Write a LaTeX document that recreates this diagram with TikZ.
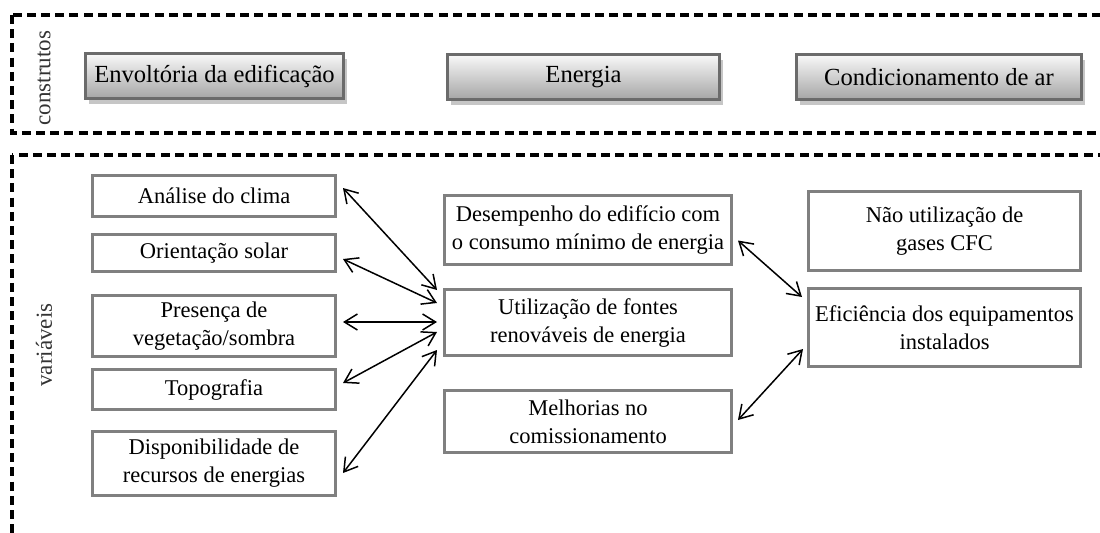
\documentclass[tikz,border=0pt]{standalone}
\usepackage{fontspec}
\setmainfont{Liberation Serif}
\usetikzlibrary{arrows.meta,shadows}

\tikzset{
    moldura/.style={line width=1.8pt, dash pattern=on 4.5pt off 2.6pt},
    rotulo/.style={rotate=90, text=black!80, font=\fontsize{11.5pt}{14pt}\selectfont},
    construto/.style={draw=black!58, line width=1.5pt, top color=gray!5, bottom color=gray!70,
        drop shadow={shadow xshift=1.5pt, shadow yshift=-2.5pt, fill=gray!45, opacity=1},
        font=\fontsize{12.3pt}{14pt}\selectfont, minimum height=22.5pt, inner sep=0pt},
    variavel/.style={draw=gray, line width=1.5pt, fill=white, align=center,
        font=\fontsize{11.25pt}{14pt}\selectfont, inner sep=0pt},
    liga/.style={{Straight Barb[length=6.5pt,width=8pt]}-{Straight Barb[length=6.5pt,width=8pt]}, line width=0.75pt}
}

\begin{document}
\begin{tikzpicture}[x=0.5pt,y=-0.5pt]
    \useasboundingbox (0,0) rectangle (1100,532);
    \clip (0,0) rectangle (1100,532);

    \draw[moldura] (12,15) rectangle (1120,133); %construtos
    \draw[moldura] (12,155) rectangle (1120,560); %variaveis
    \node[rotulo] (lbcon) at (44,78) {construtos};
    \node[rotulo] (lbvar) at (44,345) {variáveis};

    \node[construto, minimum width=129pt] (env) at (214.5,76) {Envoltória da edificação}; %envoltoria
    \node[construto, minimum width=136pt] (ene) at (583.5,77) {Energia}; %energia
    \node[construto, minimum width=142.5pt] (cond) at (939,77) {Condicionamento de ar}; %condicionamento

    % coluna da envoltoria
    \node[variavel, minimum width=121.5pt, minimum height=20.5pt] (clima) at (214,196) {Análise do clima};
    \node[variavel, minimum width=121.5pt, minimum height=18.5pt] (orient) at (214,253) {Orientação solar};
    \node[variavel, minimum width=121.5pt, minimum height=30.5pt] (veg) at (214,326) {Presença de\\vegetação/sombra};
    \node[variavel, minimum width=121.5pt, minimum height=20pt] (topo) at (214,389.5) {Topografia};
    \node[variavel, minimum width=121.5pt, minimum height=32pt] (disp) at (214,463.5) {Disponibilidade de\\recursos de energias};

    % coluna da energia
    \node[variavel, minimum width=143.5pt, minimum height=34.5pt] (desemp) at (588,229.5) {Desempenho do edifício com\\o consumo mínimo de energia};
    \node[variavel, minimum width=143.5pt, minimum height=33pt] (util) at (588,322.5) {Utilização de fontes\\renováveis de energia};
    \node[variavel, minimum width=143.5pt, minimum height=31pt] (melh) at (588,421.5) {Melhorias no\\comissionamento};

    % coluna do condicionamento
    \node[variavel, minimum width=136pt, minimum height=39.5pt] (nao) at (944.5,231) {Não utilização de\\gases CFC};
    \node[variavel, minimum width=136pt, minimum height=39pt] (efic) at (944.5,327.5) {Eficiência dos equipamentos\\instalados};

    \draw[liga] ([shift={(6,-8)}]clima.east) -- ([shift={(-6,-32.5)}]util.west);
    \draw[liga] ([shift={(6,6)}]orient.east) -- ([shift={(-6,-19.5)}]util.west);
    \draw[liga] ([shift={(6,-4)}]veg.east) -- ([shift={(-6,-0.5)}]util.west);
    \draw[liga] ([shift={(6,-6.5)}]topo.east) -- ([shift={(-6,9.5)}]util.west);
    \draw[liga] ([shift={(6,9.5)}]disp.east) -- ([shift={(-6,27.5)}]util.west);

    \draw[liga] ([shift={(5,11)}]desemp.east) -- ([shift={(-5,-30.5)}]efic.west);
    \draw[liga] ([shift={(5,-1.5)}]melh.east) -- ([shift={(-4,21.5)}]efic.west);
\end{tikzpicture}
\end{document}
